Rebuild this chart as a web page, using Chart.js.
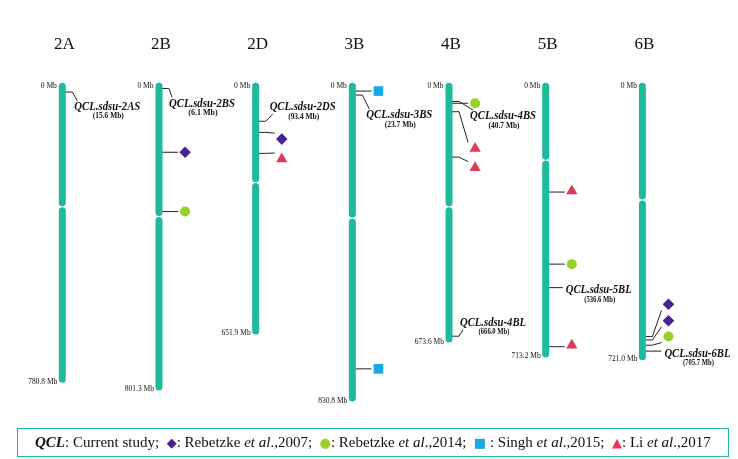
<!DOCTYPE html>
<html>
<head>
<meta charset="utf-8">
<script src="https://cdn.jsdelivr.net/npm/chart.js@4.4.0/dist/chart.umd.min.js"></script>
<style>
html, body { margin: 0; padding: 0; background: #fff; }
#wrap { position: relative; width: 738px; height: 459px; }
#legend {
    position: absolute; left: 17px; top: 428px; width: 712px; height: 29px;
    box-sizing: border-box; border: 1.5px solid #1dbb9c;
    font: 15px "Liberation Serif", serif; line-height: 26px;
    padding-left: 17px; white-space: nowrap; color: #111;
}
#legend .s { font-family: "DejaVu Sans", sans-serif; font-size: 13px; }
</style>
</head>
<body>
<div id="wrap">
    <canvas id="c" width="738" height="459"></canvas>
    <div id="legend"><b><i>QCL</i></b>: Current study;&nbsp; <span class="s" style="color:#45248f">&#9670;</span>: Rebetzke <i>et al</i>.,2007;&nbsp; <span class="s" style="color:#99d12a">&#9679;</span>: Rebetzke <i>et al</i>.,2014;&nbsp; <span class="s" style="color:#17a8e8">&#9632;</span> : Singh <i>et al</i>.,2015;&nbsp; <span class="s" style="color:#e0395a">&#9650;</span>: Li <i>et al</i>.,2017</div>
</div>
<script>
// ---------------------------
// Chromosomes (Mb)
// ---------------------------
const chromNames = ['2A', '2B', '2D', '3B', '4B', '5B', '6B'];
const chromLengthMb = [780.8, 801.3, 651.9, 830.8, 673.6, 713.2, 721.0];
const centromereMb = [321, 347, 257, 351, 321, 197, 303];

// QCL of the current study
const qclChrom = ['2A', '2B', '2D', '3B', '4B', '4B', '5B', '6B'];
const qclArm = ['2AS', '2BS', '2DS', '3BS', '4BS', '4BL', '5BL', '6BL'];
const qclMb = [15.6, 6.1, 93.4, 23.7, 40.7, 666.0, 536.6, 705.7];

// Earlier studies: chromosome, position on chromosome, position where symbol is drawn
const reb2007Chrom = ['2B', '2D', '6B', '6B'];
const reb2007Mb = [176, 123, 667, 676];
const reb2007ShownMb = [176, 141, 581, 625];

const reb2014Chrom = ['2B', '4B', '5B', '6B'];
const reb2014Mb = [334, 45.5, 474, 690];
const reb2014ShownMb = [334, 45.5, 474, 667];

const singh2015Chrom = ['3B', '3B'];
const singh2015Mb = [13, 753];
const singh2015ShownMb = [13, 753];

const li2017Chrom = ['2D', '4B', '4B', '5B', '5B'];
const li2017Mb = [179, 68, 189, 282, 694];
const li2017ShownMb = [194, 166, 217, 279, 690];

// label placement (px, relative to chromosome centre / attach point)
const qclLabelDx = [12, 10, 14, 14, 21, 11, 20, 22];
const qclLabelDy = [14.6, 14.8, -14, 19.9, 14.5, -13.5, 2.4, 2.2];

const TEAL = '#1dbb9c';
const MARK_OFF = 0.27;
const idx = name => chromNames.indexOf(name);

// ---------------------------
// Datasets
// ---------------------------
const datasets = [];

chromNames.forEach((name, i) => {
    const gap = 10.5;
    [[0, centromereMb[i] - gap], [centromereMb[i] + gap, chromLengthMb[i]]].forEach(([a, b]) => {
        datasets.push({
            data: [{ x: i, y: a }, { x: i, y: b }],
            showLine: true,
            borderColor: TEAL,
            borderWidth: 7,
            borderCapStyle: 'round',
            pointRadius: 0
        });
    });
});

const studies = [
    { chrom: reb2007Chrom, mb: reb2007Mb, shown: reb2007ShownMb, style: 'rectRot', r: 5.8, color: '#45248f' },
    { chrom: reb2014Chrom, mb: reb2014Mb, shown: reb2014ShownMb, style: 'circle', r: 5, color: '#99d12a' },
    { chrom: singh2015Chrom, mb: singh2015Mb, shown: singh2015ShownMb, style: 'rect', r: 6.8, color: '#17a8e8' },
    { chrom: li2017Chrom, mb: li2017Mb, shown: li2017ShownMb, style: 'triangle', r: 6.5, color: '#e0395a' }
];

studies.forEach(s => {
    datasets.push({
        data: s.chrom.map((c, k) => ({ x: idx(c) + MARK_OFF, y: s.shown[k] })),
        pointStyle: s.style,
        pointRadius: s.r,
        backgroundColor: s.color,
        borderColor: s.color,
        borderWidth: 0,
        showLine: false
    });
});

// ---------------------------
// Connectors + text
// ---------------------------
const overlay = {
    id: 'overlay',
    beforeDatasetsDraw(chart) {
        const ctx = chart.ctx;
        const xs = chart.scales.x, ys = chart.scales.y;
        ctx.save();
        ctx.strokeStyle = '#222';
        ctx.lineWidth = 1;

        studies.forEach(s => {
            s.chrom.forEach((c, k) => {
                const cx = xs.getPixelForValue(idx(c));
                const mx = xs.getPixelForValue(idx(c) + MARK_OFF);
                const ya = ys.getPixelForValue(s.mb[k]);
                const yb = ys.getPixelForValue(s.shown[k]);
                ctx.beginPath();
                ctx.moveTo(cx + 3, ya);
                if (Math.abs(yb - ya) < 3) {
                    ctx.lineTo(mx - 7, ya);
                } else {
                    ctx.lineTo(cx + 10, ya);
                    ctx.lineTo(mx - 7, yb + (yb > ya ? -6 : 6));
                }
                ctx.stroke();
            });
        });

        qclChrom.forEach((c, k) => {
            const cx = xs.getPixelForValue(idx(c));
            const ya = ys.getPixelForValue(qclMb[k]);
            const left = cx + qclLabelDx[k];
            const ly = ya + qclLabelDy[k];
            ctx.beginPath();
            ctx.moveTo(cx + 3, ya);
            if (Math.abs(qclLabelDy[k]) < 4) {
                ctx.lineTo(left - 3, ya);
            } else {
                ctx.lineTo(cx + 10, ya);
                ctx.lineTo(left + 3, ly + (qclLabelDy[k] > 0 ? -6 : 7));
            }
            ctx.stroke();
        });
        ctx.restore();
    },
    afterDatasetsDraw(chart) {
        const ctx = chart.ctx;
        const xs = chart.scales.x, ys = chart.scales.y;
        ctx.save();
        ctx.fillStyle = '#111';
        ctx.textBaseline = 'middle';

        // chromosome titles
        ctx.font = '17px "Liberation Serif"';
        ctx.textAlign = 'center';
        chromNames.forEach((n, i) => ctx.fillText(n, xs.getPixelForValue(i) + 2, 45));

        // ends
        ctx.font = '7.5px "Liberation Serif"';
        ctx.textAlign = 'right';
        chromNames.forEach((n, i) => {
            const cx = xs.getPixelForValue(i);
            ctx.fillText('0 Mb', cx - 5.5, ys.getPixelForValue(0) - 0.5);
            ctx.fillText(chromLengthMb[i].toFixed(1) + ' Mb', cx - 5, ys.getPixelForValue(chromLengthMb[i]) + 2.5);
        });

        // QCL labels
        qclChrom.forEach((c, k) => {
            const cx = xs.getPixelForValue(idx(c));
            const left = cx + qclLabelDx[k];
            const ly = ys.getPixelForValue(qclMb[k]) + qclLabelDy[k];
            ctx.textAlign = 'left';
            ctx.font = 'italic bold 12.5px "Liberation Serif"';
            ctx.fillText('QCL.sdsu-' + qclArm[k], left, ly, 66);
            ctx.textAlign = 'center';
            ctx.font = 'bold 8px "Liberation Serif"';
            ctx.fillText('(' + qclMb[k].toFixed(1) + ' Mb)', left + 34, ly + 9.5, 31);
        });
        ctx.restore();
    }
};

new Chart(document.getElementById('c'), {
    type: 'scatter',
    data: { datasets },
    options: {
        responsive: false,
        animation: false,
        events: [],
        layout: { padding: 0, autoPadding: false },
        scales: {
            x: { type: 'linear', display: false, min: -0.6444, max: 6.989 },
            y: { type: 'linear', display: false, reverse: true, min: -229.6, max: 993.1 }
        },
        plugins: { legend: { display: false }, tooltip: { enabled: false } }
    },
    plugins: [overlay]
});
</script>
</body>
</html>
